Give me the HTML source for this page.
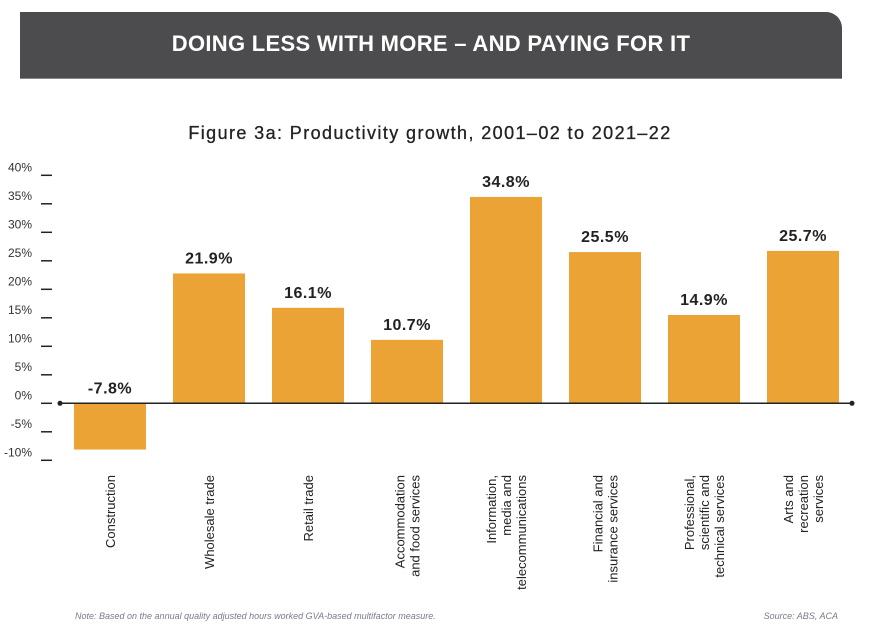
<!DOCTYPE html>
<html><head><meta charset="utf-8"><style>
html,body{margin:0;padding:0;background:#fff;}
body{width:872px;height:631px;overflow:hidden;position:relative;font-family:"Liberation Sans",sans-serif;}
</style></head><body>
<div style="position:absolute;left:20px;top:12px;width:822px;height:66px;background:#4c4c4e;border-top-right-radius:16px;border-bottom:1px solid #888;"></div>
<div style="position:absolute;left:20px;top:31px;width:822px;text-align:center;color:#fff;font-weight:bold;font-size:22px;letter-spacing:0.3px;">DOING LESS WITH MORE – AND PAYING FOR IT</div>
<svg width="872" height="631" style="position:absolute;left:0;top:0" id="chart">
<text x="430" y="139" text-anchor="middle" font-size="18" letter-spacing="1.4" fill="#222" stroke="#222" stroke-width="0.3">Figure 3a: Productivity growth, 2001–02 to 2021–22</text>
<text x="75" y="619" font-size="9" font-style="italic" fill="#7a7a8c">Note: Based on the annual quality adjusted hours worked GVA-based multifactor measure.</text>
<text x="838" y="619" text-anchor="end" font-size="9" font-style="italic" fill="#7a7a8c">Source: ABS, ACA</text>
</svg>
<script>
const categories=[["Construction"],["Wholesale trade"],["Retail trade"],["Accommodation","and food services"],["Information,","media and","telecommunications"],["Financial and","insurance services"],["Professional,","scientific and","technical services"],["Arts and","recreation","services"]];
const values=[-7.8,21.9,16.1,10.7,34.8,25.5,14.9,25.7];
const valueLabels=["-7.8%","21.9%","16.1%","10.7%","34.8%","25.5%","14.9%","25.7%"];
const ticks=[40,35,30,25,20,15,10,5,0,-5,-10];
const tickLabels=["40%","35%","30%","25%","20%","15%","10%","5%","0%","-5%","-10%"];
const svg=document.getElementById('chart');
const NS='http://www.w3.org/2000/svg';
const y0=403.3;
const y=v=>y0-v*5.93;
const yt=v=>y0-v*5.7;
const x=i=>110+i*99;
const bw=72;
function mk(t,a){const e=document.createElementNS(NS,t);for(const k in a)e.setAttribute(k,a[k]);svg.appendChild(e);return e;}
ticks.forEach((t,i)=>{
  const l=mk('line',{x1:41,x2:52,y1:yt(t),y2:yt(t),stroke:'#222','stroke-width':1.5});
  
  
  const tx=mk('text',{x:32,y:yt(t)-4,'text-anchor':'end','font-size':12,fill:'#333'});
  tx.textContent=tickLabels[i];
  
  
});
values.forEach((v,i)=>{
  const top=Math.min(y(v),y0), h=Math.abs(y(v)-y0);
  const r=mk('rect',{x:x(i)-bw/2,y:top,width:bw,height:h,fill:'#eba336'});
  
  
  const ly=(v<0?y0:y(v))-10;
  const t=mk('text',{x:x(i),y:ly,'text-anchor':'middle','font-size':16,'font-weight':'bold',fill:'#222','letter-spacing':'0.5'});
  t.textContent=valueLabels[i];
  
  
  const lines=categories[i], n=lines.length;
  const g=mk('text',{'font-size':13,fill:'#222','text-anchor':'end',transform:'translate('+(x(i)+5-(n-1)*7.5)+',475) rotate(-90)'});
  
  
  lines.forEach((s,j)=>{const ts=document.createElementNS(NS,'tspan');ts.setAttribute('x',0);ts.setAttribute('y',j*15);ts.textContent=s;g.appendChild(ts);});
});
const ax=mk('line',{x1:60,x2:852,y1:y0,y2:y0,stroke:'#222','stroke-width':1.5});


[60,852].forEach(cx=>{const c=mk('circle',{cx:cx,cy:y0,r:2.5,fill:'#222'});
  
  });
</script>
</body></html>
